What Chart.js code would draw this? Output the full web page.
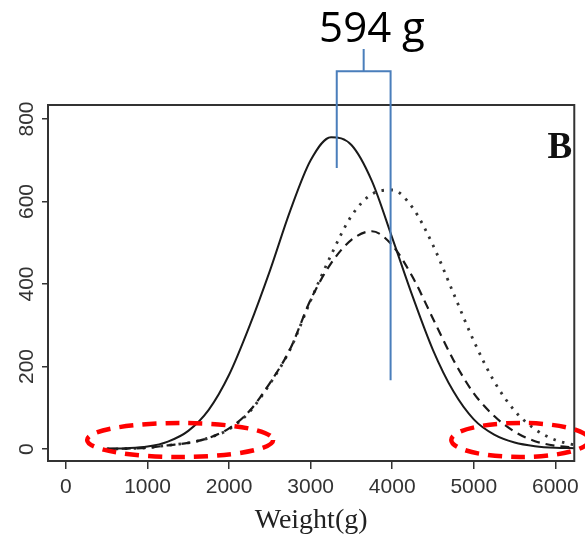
<!DOCTYPE html>
<html>
<head>
<meta charset="utf-8">
<script src="https://cdn.jsdelivr.net/npm/chart.js@4.4.0/dist/chart.umd.min.js"></script>
<style>
html, body { margin: 0; padding: 0; background: #fff; }
#wrap { width: 585px; height: 545px; }
</style>
</head>
<body>
<div id="wrap"><canvas id="weights" width="585" height="545"></canvas></div>
<script>
// weight distributions
var weights = [500, 750, 1000, 1250, 1500, 1750, 2000, 2250, 2500, 2750, 3000, 3250,
               3500, 3750, 4000, 4250, 4500, 4750, 5000, 5250, 5500, 5750, 6000, 6250];
var solidCounts  = [1, 2, 6, 18, 44, 95, 180, 298, 432, 578, 700, 756,
                    737, 650, 512, 370, 240, 140, 72, 35, 16, 7, 3, 2];
var dashedCounts = [0, 1, 3, 9, 15, 27, 50, 92, 160, 243, 362, 450,
                    507, 528, 494, 417, 316, 216, 135, 80, 42, 19, 8, 3];
var dottedCounts = [0, 1, 3, 9, 15, 27, 48, 90, 158, 242, 360, 470,
                    565, 618, 628, 585, 494, 378, 262, 164, 93, 48, 22, 9];

var xTicks = [0, 1000, 2000, 3000, 4000, 5000, 6000];
var yTicks = [0, 200, 400, 600, 800];
var axisTitle = 'Weight(g)';
var panelLabel = 'B';
var gapLabel = '594 g';

function toPoints(ys) {
	return weights.map(function(w, i) { return {x: w, y: ys[i]}; });
}

var ink = '#1a1a1a';
var blue = '#4a7ebb';

//box, rotated y labels and the hand drawn marks
var extras = {
	id: 'extras',
	afterDraw: function(chart) {
		var ctx = chart.ctx;
		var a = chart.chartArea;
		var xs = chart.scales.x, ys = chart.scales.y;
		ctx.save();

		ctx.strokeStyle = '#333';
		ctx.lineWidth = 2;
		ctx.strokeRect(a.left, a.top, a.right - a.left, a.bottom - a.top);

		ctx.fillStyle = '#333';
		ctx.font = '21px "Liberation Sans", Arial, sans-serif';
		ctx.textAlign = 'center';
		ctx.textBaseline = 'middle';
		yTicks.forEach(function(t) {
			ctx.save();
			ctx.translate(27, ys.getPixelForValue(t));
			ctx.rotate(-Math.PI / 2);
			ctx.fillText(String(t), 0, 0);
			ctx.restore();
		});

		ctx.fillStyle = '#111';
		ctx.font = 'bold 37px "Liberation Serif", "Times New Roman", serif';
		ctx.textAlign = 'right';
		ctx.textBaseline = 'alphabetic';
		ctx.fillText(panelLabel, a.right - 2, a.top + 53);

		// red dashed rings round the tails
		ctx.strokeStyle = '#ff0000';
		ctx.lineWidth = 4.5;
		ctx.setLineDash([14, 9]);
		ctx.beginPath();
		ctx.ellipse(xs.getPixelForValue(1400), ys.getPixelForValue(22), 93, 17, 0, 0, Math.PI * 2);
		ctx.stroke();
		ctx.beginPath();
		ctx.ellipse(xs.getPixelForValue(5570), ys.getPixelForValue(22), 69, 17, 0, 0, Math.PI * 2);
		ctx.stroke();
		ctx.setLineDash([]);

		// bracket between the two peaks
		var xl = xs.getPixelForValue(3320), xr = xs.getPixelForValue(3980);
		var top = ys.getPixelForValue(916);
		var xm = (xl + xr) / 2;
		ctx.strokeStyle = blue;
		ctx.lineWidth = 2;
		ctx.beginPath();
		ctx.moveTo(xl, ys.getPixelForValue(681));
		ctx.lineTo(xl, top);
		ctx.lineTo(xr, top);
		ctx.lineTo(xr, ys.getPixelForValue(167));
		ctx.moveTo(xm, top);
		ctx.lineTo(xm, ys.getPixelForValue(970));
		ctx.stroke();

		ctx.fillStyle = '#000';
		ctx.font = '42px "Open Sans", "Noto Sans", sans-serif';
		ctx.textAlign = 'center';
		ctx.fillText(gapLabel, 372, 42);
		ctx.restore();
	}
};

var chart = new Chart(document.getElementById('weights'), {
	type: 'line',
	data: {
		datasets: [{
			data: toPoints(solidCounts),
			borderColor: ink,
			borderWidth: 2
		}, {
			data: toPoints(dashedCounts),
			borderColor: ink,
			borderWidth: 2.2,
			borderDash: [9, 6]
		}, {
			data: toPoints(dottedCounts),
			borderColor: '#333',
			borderWidth: 2.8,
			borderDash: [2.5, 6.5]
		}]
	},
	options: {
		responsive: false,
		animation: false,
		cubicInterpolationMode: 'monotone',
		elements: { point: { radius: 0 } },
		layout: { autoPadding: false, padding: { top: 105, right: 8, left: 0, bottom: 0 } },
		plugins: { legend: { display: false }, tooltip: { enabled: false } },
		scales: {
			x: {
				type: 'linear',
				min: -220,
				max: 6232,
				afterBuildTicks: function(s) { s.ticks = xTicks.map(function(v) { return {value: v}; }); },
				afterFit: function(s) { s.height = 84; },
				border: { display: false },
				grid: { drawOnChartArea: false, drawTicks: true, tickLength: 8, color: '#333', lineWidth: 1.5 },
				ticks: {
					padding: 6,
					color: '#333',
					maxRotation: 0,
					callback: function(v) { return String(v); },
					font: { family: '"Liberation Sans", Arial, sans-serif', size: 21 }
				},
				title: {
					display: true,
					text: axisTitle,
					color: '#222',
					padding: { top: 0, bottom: 8 },
					font: { family: '"Liberation Serif", "Times New Roman", serif', size: 28 }
				}
			},
			y: {
				min: -29,
				max: 834,
				afterBuildTicks: function(s) { s.ticks = yTicks.map(function(v) { return {value: v}; }); },
				afterFit: function(s) { s.width = 48; },
				border: { display: false },
				grid: { drawOnChartArea: false, drawTicks: true, tickLength: 6, color: '#333', lineWidth: 1.5 },
				ticks: { display: false }
			}
		}
	},
	plugins: [extras]
});
</script>
</body>
</html>
